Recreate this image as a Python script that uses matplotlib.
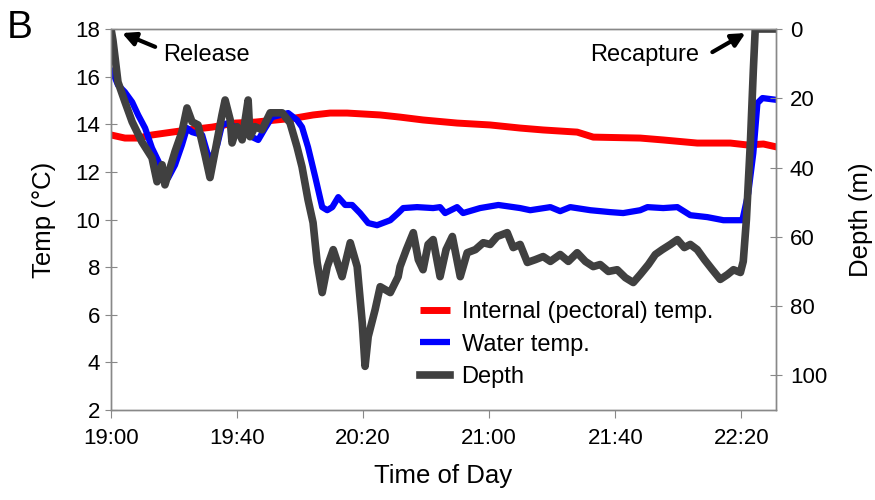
import matplotlib
matplotlib.use('Agg')
import matplotlib.pyplot as plt

plt.rcParams['font.family'] = ['Liberation Sans', 'DejaVu Sans']

# minutes after 19:00
depth_t = [0, 0.6, 1.3, 2.2, 4.4, 6.7, 9.8, 13.0, 14.6, 16.2, 17.1, 20.3, 22.5, 24.1, 25.7,
           27.6, 29.8, 31.4, 33.0, 35.2, 36.2, 37.8, 38.4, 40.0, 41.6, 43.5, 44.1, 45.7,
           47.9, 50.5, 54.3, 56.8, 59.0, 60.6, 62.5, 64.1, 65.4, 67.0, 68.6, 70.5, 73.3,
           75.9, 78.1, 79.7, 80.6, 81.6, 83.8, 85.4, 88.6, 91.1, 91.7, 93.7, 95.9, 97.5,
           99.0, 100.6, 102.2, 104.4, 106.3, 108.3, 110.8, 113.0, 115.6, 118.1, 120.3,
           122.5, 125.7, 127.6, 129.8, 132.1, 134.6, 137.1, 139.4, 142.5, 145.1, 147.9,
           150.5, 153.0, 155.2, 157.8, 160.6, 163.2, 165.7, 167.9, 170.5, 172.7, 174.9,
           177.5, 179.7, 181.9, 183.8, 186.0, 188.3, 190.8, 193.3, 195.6, 197.5, 199.7,
           200.6, 201.6, 202.9, 203.8, 204.4, 211.1]
depth_m = [0, 3.2, 8.4, 15.3, 21.0, 26.8, 32.6, 37.2, 44.1, 39.2, 45.0, 35.4, 29.7, 22.8, 26.8,
           27.7, 36.3, 42.9, 35.4, 24.8, 20.5, 26.2, 32.9, 28.2, 32.0, 20.5, 31.1, 28.2,
           29.1, 24.2, 24.2, 27.1, 34.0, 39.8, 49.3, 55.9, 67.4, 76.1, 68.6, 63.7, 71.5,
           61.7, 68.6, 84.7, 97.4, 88.8, 81.0, 74.4, 76.1, 71.5, 68.6, 63.7, 58.8, 66.6,
           69.5, 62.2, 60.8, 71.5, 63.7, 59.9, 71.5, 64.6, 63.7, 61.7, 62.2,
           59.9, 58.8, 63.1, 62.2, 67.4, 66.6, 65.7, 67.1, 65.1, 67.1, 64.6,
           67.1, 68.6, 68.0, 70.0, 69.5, 71.8, 73.2, 70.9, 68.0, 65.1, 63.7,
           62.2, 60.8, 63.1, 62.2, 63.7, 66.6, 69.5, 72.3, 70.9, 69.5, 70.3,
           67.1, 55.0, 32.0, 11.8, 0, 0]

water_t = [0, 2.2, 4.4, 6.7, 8.6, 10.8, 13.0, 15.6, 18.1, 20.3, 22.5, 24.1, 25.7, 28.9, 31.4,
           33.7, 35.2, 37.1, 39.4, 42.5, 44.8, 46.7, 48.9, 51.1, 56.2, 59.0, 60.6, 62.5,
           64.8, 67.0, 68.6, 70.2, 72.1, 74.3, 76.5, 79.0, 81.6, 84.4, 88.6, 91.1, 92.7,
           97.1, 102.2, 104.4, 106.0, 109.8, 111.7, 117.1, 122.9, 129.8, 133.0, 139.4,
           142.5, 145.7, 152.1, 158.4, 162.5, 167.9, 170.2, 175.2, 179.7, 183.8, 189.2,
           194.3, 200.3, 202.2, 203.8, 205.1, 206.7, 211.4]
water_c = [16.36, 15.65, 15.35, 14.93, 14.39, 13.84, 13.00, 12.29, 11.74, 12.29, 13.13, 13.84,
           13.67, 13.55, 12.41, 13.13, 13.97, 14.05, 13.88, 13.63, 13.46, 13.34, 13.84,
           14.30, 14.47, 14.18, 13.88, 13.04, 11.78, 10.52, 10.39, 10.52, 10.94, 10.61,
           10.61, 10.27, 9.85, 9.76, 9.97, 10.27, 10.48, 10.52, 10.48, 10.52, 10.27, 10.52,
           10.27, 10.48, 10.61, 10.48, 10.39, 10.52, 10.35, 10.52, 10.39, 10.31, 10.27,
           10.39, 10.52, 10.48, 10.52, 10.18, 10.10, 9.97, 9.97, 11.11, 12.79, 14.89,
           15.10, 15.02]

internal_t = [0, 4.4, 8.6, 13.0, 19.4, 24.4, 32.1, 39.4, 45.7, 58.4, 64.1, 69.5, 74.9, 85.4,
              91.7, 99.0, 109.8, 120.3, 129.8, 137.1, 147.9, 153.0, 167.9, 175.2, 186.0,
              196.5, 201.9, 207.0, 211.4]
internal_c = [13.55, 13.42, 13.42, 13.55, 13.67, 13.76, 13.88, 14.05, 14.09, 14.26, 14.39,
              14.47, 14.47, 14.39, 14.30, 14.18, 14.05, 13.97, 13.84, 13.76, 13.67, 13.46,
              13.42, 13.34, 13.21, 13.21, 13.13, 13.17, 13.04]

xticks = [0, 40, 80, 120, 160, 200]
xtick_labels = ['19:00', '19:40', '20:20', '21:00', '21:40', '22:20']

fig = plt.figure(figsize=(8.75, 5), dpi=100)
ax = fig.add_axes([0.1269, 0.18, 0.76, 0.762])
ax2 = ax.twinx()

l1, = ax.plot(internal_t, internal_c, color='#ff0000', lw=5, solid_capstyle='butt',
              label='Internal (pectoral) temp.')
l2, = ax.plot(water_t, water_c, color='#0000ff', lw=4.5, solid_capstyle='butt',
              label='Water temp.')
l3, = ax2.plot(depth_t, depth_m, color='#404040', lw=5.5, solid_joinstyle='round',
               label='Depth')

ax.set_xlim(0, 211)
ax.set_ylim(2, 18)
ax.set_yticks(range(2, 19, 2))
ax.set_xticks(xticks)
ax.set_xticklabels(xtick_labels)
ax2.set_ylim(110, 0)
ax2.set_yticks(range(0, 101, 20))

for a in (ax, ax2):
    for s in a.spines.values():
        s.set_color('#888888')
        s.set_linewidth(1)
ax.tick_params(axis='x', direction='out', length=6, color='#888888', labelsize=16, pad=7)
ax.tick_params(axis='y', direction='inout', length=8, color='#888888', labelsize=16, pad=4)
ax2.tick_params(axis='y', direction='inout', length=8, color='#888888', labelsize=16, pad=6)

ax.set_xlabel('Time of Day', fontsize=18.5, labelpad=11)
ax.set_ylabel('Temp (°C)', fontsize=18.5, labelpad=14)
ax2.set_ylabel('Depth (m)', fontsize=18.5, labelpad=16)

ax2.legend(handles=[l1, l2, l3], loc='upper left', bbox_to_anchor=(0.45, 0.31),
           frameon=False, fontsize=17, handlelength=1.27, handletextpad=0.5,
           labelspacing=0.44, borderaxespad=0)

arrow = dict(arrowstyle='-|>', lw=3, color='black', mutation_scale=20,
             shrinkA=0, shrinkB=0)
ax.annotate('', xy=(3.5, 17.83), xytext=(14.0, 17.25), arrowprops=arrow)
ax.text(16.5, 16.9, 'Release', fontsize=17, ha='left', va='center')
ax.annotate('', xy=(201.3, 17.83), xytext=(190.8, 17.03), arrowprops=arrow)
ax.text(186.5, 16.9, 'Recapture', fontsize=17, ha='right', va='center')

fig.text(0.008, 0.945, 'B', fontsize=28, va='center', ha='left')

fig.savefig('out.png', dpi=100)
